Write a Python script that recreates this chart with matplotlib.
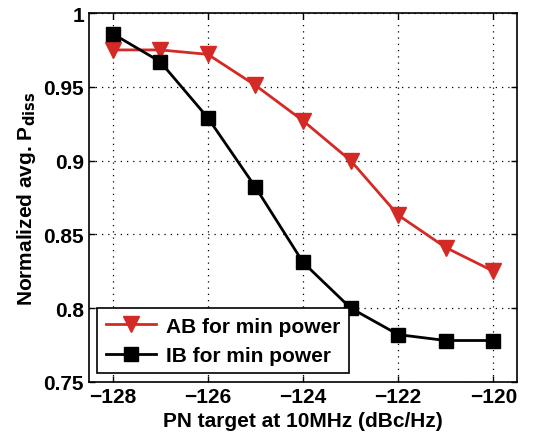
import matplotlib
matplotlib.use("Agg")
import matplotlib.pyplot as plt

plt.rcParams['font.family'] = ['Liberation Sans', 'DejaVu Sans']
plt.rcParams['font.weight'] = 'bold'

# PN target at 10 MHz offset (dBc/Hz)
pn_target = [-128, -127, -126, -125, -124, -123, -122, -121, -120]
# normalized average dissipated power
ab_min_power = [0.975, 0.975, 0.972, 0.951, 0.927, 0.900, 0.863, 0.841, 0.825]
ib_min_power = [0.986, 0.967, 0.929, 0.882, 0.831, 0.800, 0.782, 0.778, 0.778]

x_ticks = [-128, -126, -124, -122, -120]
y_ticks = [0.75, 0.8, 0.85, 0.9, 0.95, 1.0]
y_tick_labels = ['0.75', '0.8', '0.85', '0.9', '0.95', '1']

fig = plt.figure(figsize=(5.45, 4.39), dpi=100)
ax = fig.add_axes([0.163, 0.128, 0.786, 0.840])

ax.plot(pn_target, ab_min_power, color='#d42a25', lw=2, marker='v',
        markersize=12, label='AB for min power')
ax.plot(pn_target, ib_min_power, color='black', lw=2, marker='s',
        markersize=10, label='IB for min power')

ax.set_xlim(-128.5, -119.5)
ax.set_ylim(0.75, 1.0)
ax.set_xticks(x_ticks)
ax.set_xticklabels([f'\u2212{abs(v)}' for v in x_ticks])
ax.set_yticks(y_ticks)
ax.set_yticklabels(y_tick_labels)
ax.tick_params(labelsize=15, direction='in', length=4, width=1, top=True, right=True)
for sp in ax.spines.values():
    sp.set_linewidth(1.2)

ax.grid(True, linestyle=(0, (1, 4)), color='black', lw=0.9)

ax.set_xlabel('PN target at 10MHz (dBc/Hz)', fontsize=15, fontweight='bold')
ax.set_ylabel(r'Normalized avg. P$_{\mathbf{diss}}$', fontsize=15, fontweight='bold')

leg = ax.legend(loc='lower left', fontsize=15, fancybox=False, framealpha=1,
                edgecolor='black', borderaxespad=0.4, handlelength=2.4,
                handletextpad=0.5, borderpad=0.4, labelspacing=0.5)
leg.get_frame().set_linewidth(1.2)

fig.savefig('out.png', dpi=100)
